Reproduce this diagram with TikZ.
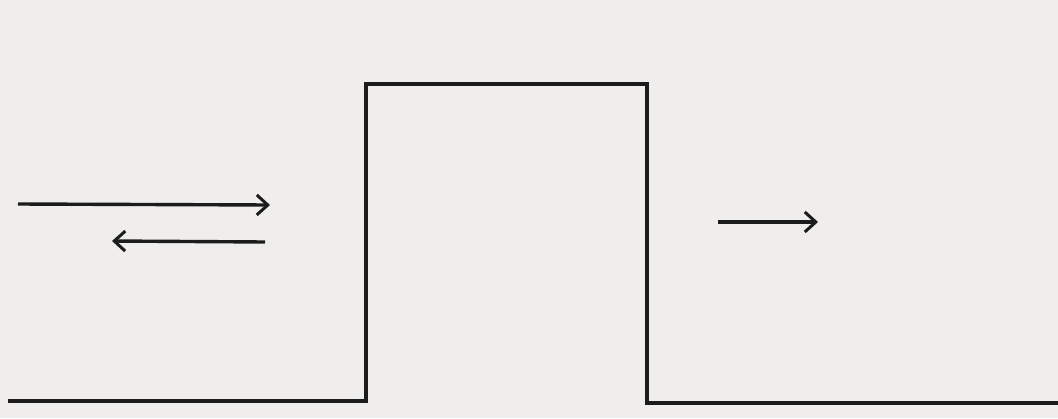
\documentclass[tikz,border=0pt]{standalone}
\usetikzlibrary{arrows.meta}
\definecolor{paper}{HTML}{EFEEEC}
\definecolor{ink}{HTML}{1C1C1C}
\begin{document}
\begin{tikzpicture}[x=1pt,y=-1pt,
  barrier/.style={draw=ink,line width=3.6pt,line join=miter},
  flow/.style={draw=ink,line width=3.4pt,-{Straight Barb[length=11pt,width=20pt,line width=3pt]}}]
\fill[paper] (0,0) rectangle (1058,418);
\useasboundingbox (0,0) rectangle (1058,418);
\coordinate (l0) at (8,401);
\coordinate (l1) at (366,401);
\coordinate (t0) at (366,84);
\coordinate (t1) at (647,84);
\coordinate (r0) at (647,403);
\coordinate (r1) at (1058,403);
\draw[barrier] (l0) -- (l1) -- (t0) -- (t1) -- (r0) -- (r1);
\coordinate (a0) at (18,204);
\coordinate (a1) at (270,205);
\coordinate (b0) at (265,242);
\coordinate (b1) at (112,241);
\coordinate (c0) at (718,222);
\coordinate (c1) at (818,222);
\draw[flow] (a0) -- (a1);
\draw[flow] (b0) -- (b1);
\draw[flow] (c0) -- (c1);
\end{tikzpicture}
\end{document}
